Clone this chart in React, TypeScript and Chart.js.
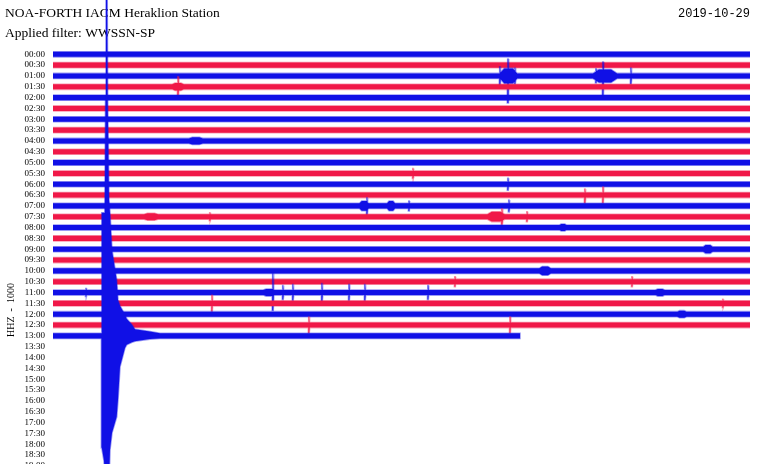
import { useEffect, useRef } from 'react';
import { Chart, registerables } from 'chart.js';

Chart.register(...registerables);

const TITLE = 'NOA-FORTH IACM Heraklion Station';
const FILTER = 'Applied filter: WWSSN-SP';
const DATE = '2019-10-29';
const CHANNEL = 'HHZ  -  1000';

const ROW_LABELS = [
  '00:00', '00:30', '01:00', '01:30', '02:00', '02:30', '03:00', '03:30', '04:00', '04:30',
  '05:00', '05:30', '06:00', '06:30', '07:00', '07:30', '08:00', '08:30', '09:00', '09:30',
  '10:00', '10:30', '11:00', '11:30', '12:00', '12:30', '13:00', '13:30', '14:00', '14:30',
  '15:00', '15:30', '16:00', '16:30', '17:00', '17:30', '18:00', '18:30', '19:00', '19:30',
];

// length (minutes) of recorded trace on each 30-minute line
const TRACE_END = [
  30, 30, 30, 30, 30, 30, 30, 30, 30, 30,
  30, 30, 30, 30, 30, 30, 30, 30, 30, 30,
  30, 30, 30, 30, 30, 30, 20.1,
];

// background noise half amplitude (in line units)
const NOISE_HALF = 0.235;

// local events: line index, minute in line, amplitude up, amplitude down, half span (minutes)
const EVENT_ROW = [2, 2, 2, 2, 2, 2, 2, 2, 3, 3, 8, 11, 12, 13, 13, 14, 14, 14, 14, 14, 15, 15, 15, 15, 15, 16, 18, 20, 21, 21, 22, 22, 22, 22, 22, 22, 22, 22, 22, 22, 23, 23, 24, 25, 25];
const EVENT_MIN = [19.24, 19.58, 19.89, 19.61, 23.76, 23.37, 23.67, 24.88, 5.38, 5.38, 6.15, 15.5, 19.58, 22.9, 23.67, 13.39, 13.52, 14.55, 15.32, 19.63, 4.22, 6.76, 19.07, 19.33, 20.4, 21.95, 28.19, 21.18, 17.3, 24.92, 1.42, 9.3, 9.47, 9.9, 10.33, 11.58, 12.74, 13.43, 16.14, 26.13, 6.84, 28.84, 27.07, 11.02, 19.67];
const EVENT_UP = [0.85, 1.57, 0.74, 0.7, 0.6, 0.65, 1.29, 0.74, 0.92, 0.34, 0.33, 0.46, 0.55, 0.55, 0.74, 0.45, 0.74, 0.45, 0.46, 0.55, 0.32, 0.37, 0.45, 0.74, 0.46, 0.32, 0.38, 0.4, 0.46, 0.46, 0.37, 0.33, 1.75, 0.65, 0.74, 0.83, 0.74, 0.74, 0.65, 0.33, 0.74, 0.37, 0.33, 0.74, 0.74];
const EVENT_DOWN = [0.85, 2.49, 0.74, 0.7, 0.6, 0.65, 1.94, 0.74, 0.92, 0.34, 0.33, 0.46, 0.55, 0.74, 0.74, 0.45, 0.83, 0.45, 0.46, 0.55, 0.32, 0.37, 0.45, 0.74, 0.46, 0.32, 0.38, 0.4, 0.46, 0.46, 0.37, 0.33, 1.66, 0.65, 0.74, 0.92, 0.74, 0.74, 0.65, 0.33, 0.74, 0.37, 0.33, 0.74, 0.74];
const EVENT_SPAN = [0.03, 0.035, 0.03, 0.37, 0.52, 0.03, 0.035, 0.03, 0.035, 0.25, 0.3, 0.03, 0.03, 0.03, 0.03, 0.2, 0.03, 0.17, 0.03, 0.03, 0.3, 0.03, 0.37, 0.035, 0.03, 0.15, 0.2, 0.25, 0.03, 0.03, 0.03, 0.25, 0.035, 0.03, 0.03, 0.03, 0.03, 0.03, 0.03, 0.2, 0.03, 0.03, 0.2, 0.03, 0.03];

// the large earthquake on the 13:00 line: envelope (line units)
const QUAKE_ROW = 26;
const QUAKE_MIN = [2.083, 2.1, 2.195, 2.23, 2.26, 2.281, 2.324, 2.354, 2.41, 2.453, 2.539, 2.742, 2.798, 2.884, 3.099, 3.172, 3.4, 3.529, 4.175, 4.606];
const QUAKE_UP = [0.23, 11.36, 11.36, 11.36, 21.8, 35.1, 35.1, 21.8, 12.56, 11.36, 7.94, 5.17, 3.32, 2.77, 1.94, 1.57, 1.02, 0.6, 0.4, 0.24];
const QUAKE_DOWN = [0.23, 10.34, 11.54, 12.93, 13.85, 13.85, 13.85, 13.85, 13.85, 10.53, 8.96, 7.48, 5.91, 2.86, 1.11, 0.83, 0.6, 0.5, 0.3, 0.24];

const BLUE = '#1010e6';
const BLUE_EDGE = 'rgba(16,16,230,0.42)';
const RED = '#f01848';
const RED_EDGE = 'rgba(240,24,72,0.42)';

function interp(xs: number[], ys: number[], x: number): number {
  if (x < xs[0] || x > xs[xs.length - 1]) return 0;
  for (let i = 0; i < xs.length - 1; i++) {
    if (x >= xs[i] && x <= xs[i + 1]) {
      const t = (x - xs[i]) / (xs[i + 1] - xs[i] || 1);
      return ys[i] + (ys[i + 1] - ys[i]) * t;
    }
  }
  return 0;
}

function envelope(row: number, x: number): [number, number] {
  let up = NOISE_HALF;
  let down = NOISE_HALF;
  for (let i = 0; i < EVENT_ROW.length; i++) {
    if (EVENT_ROW[i] !== row) continue;
    const d = Math.abs(x - EVENT_MIN[i]);
    if (d < EVENT_SPAN[i]) {
      const f = Math.min(1, 2 * (1 - d / EVENT_SPAN[i]));
      up = Math.max(up, NOISE_HALF + (EVENT_UP[i] - NOISE_HALF) * f);
      down = Math.max(down, NOISE_HALF + (EVENT_DOWN[i] - NOISE_HALF) * f);
    }
  }
  if (row === QUAKE_ROW) {
    up = Math.max(up, interp(QUAKE_MIN, QUAKE_UP, x));
    down = Math.max(down, interp(QUAKE_MIN, QUAKE_DOWN, x));
  }
  return [up, down];
}

function rowPolygon(row: number) {
  const end = TRACE_END[row];
  const xs = new Set<number>([0, end]);
  for (let i = 0; i < EVENT_ROW.length; i++) {
    if (EVENT_ROW[i] !== row) continue;
    const m = EVENT_MIN[i];
    const s = EVENT_SPAN[i];
    xs.add(m - s);
    xs.add(m - s / 2);
    xs.add(m);
    xs.add(m + s / 2);
    xs.add(m + s);
  }
  if (row === QUAKE_ROW) QUAKE_MIN.forEach((m) => xs.add(m));
  const sorted = [...xs].filter((x) => x >= 0 && x <= end).sort((a, b) => a - b);
  const upper = sorted.map((x) => ({ x, y: row - envelope(row, x)[0] }));
  const lower = sorted
    .slice()
    .reverse()
    .map((x) => ({ x, y: row + envelope(row, x)[1] }));
  return [...upper, ...lower];
}

const headerPlugin = {
  id: 'header',
  beforeDatasetsDraw(chart: any) {
    const ctx = chart.ctx as CanvasRenderingContext2D;
    ctx.save();
    ctx.fillStyle = '#000';
    ctx.textBaseline = 'alphabetic';
    ctx.textAlign = 'left';
    ctx.font = '13.5px "Liberation Serif"';
    ctx.fillText(TITLE, 5, 17);
    ctx.fillText(FILTER, 5, 37);
    ctx.font = '12px "Liberation Mono"';
    ctx.textAlign = 'right';
    ctx.fillText(DATE, 750, 17);
    ctx.translate(14, 310);
    ctx.rotate(-Math.PI / 2);
    ctx.font = '10px "Liberation Serif"';
    ctx.textAlign = 'center';
    ctx.fillText(CHANNEL, 0, 0);
    ctx.restore();
  },
};

export default function App() {
  const ref = useRef<HTMLCanvasElement>(null);

  useEffect(() => {
    if (!ref.current) return;
    const datasets = TRACE_END.map((_, row) => ({
      data: rowPolygon(row),
      fill: 'shape',
      backgroundColor: row % 2 === 0 ? BLUE : RED,
      borderColor: row % 2 === 0 ? BLUE_EDGE : RED_EDGE,
      borderWidth: 1.6,
      pointRadius: 0,
      tension: 0,
      order: TRACE_END.length - row,
    }));
    const chart = new Chart(ref.current, {
      type: 'line',
      data: { datasets: datasets as any },
      options: {
        responsive: false,
        animation: false,
        events: [],
        layout: { padding: { left: 0, right: 20, top: 0, bottom: 0 }, autoPadding: false } as any,
        plugins: {
          legend: { display: false },
          tooltip: { enabled: false },
          title: { display: false },
        },
        scales: {
          x: { type: 'linear', min: 0, max: 30, display: false },
          y: {
            type: 'linear',
            reverse: true,
            min: -5.014,
            max: 39.31,
            grid: { display: false, drawTicks: false },
            border: { display: false },
            afterFit: (s: any) => {
              s.width = 53;
              s.paddingTop = 0;
              s.paddingBottom = 0;
            },
            afterBuildTicks: (s: any) => {
              s.ticks = ROW_LABELS.map((_, i) => ({ value: i }));
            },
            ticks: {
              autoSkip: false,
              padding: 8,
              color: '#000',
              font: { family: '"Liberation Serif"', size: 9 },
              callback: (v: any) => ROW_LABELS[v as number] ?? '',
            },
          } as any,
        },
      },
      plugins: [headerPlugin],
    });
    return () => chart.destroy();
  }, []);

  return (
    <div
      style={{
        position: 'fixed',
        left: 0,
        top: 0,
        width: 770,
        height: 464,
        overflow: 'hidden',
        background: '#fff',
      }}
    >
      <canvas ref={ref} width={770} height={480} style={{ display: 'block' }} />
    </div>
  );
}
